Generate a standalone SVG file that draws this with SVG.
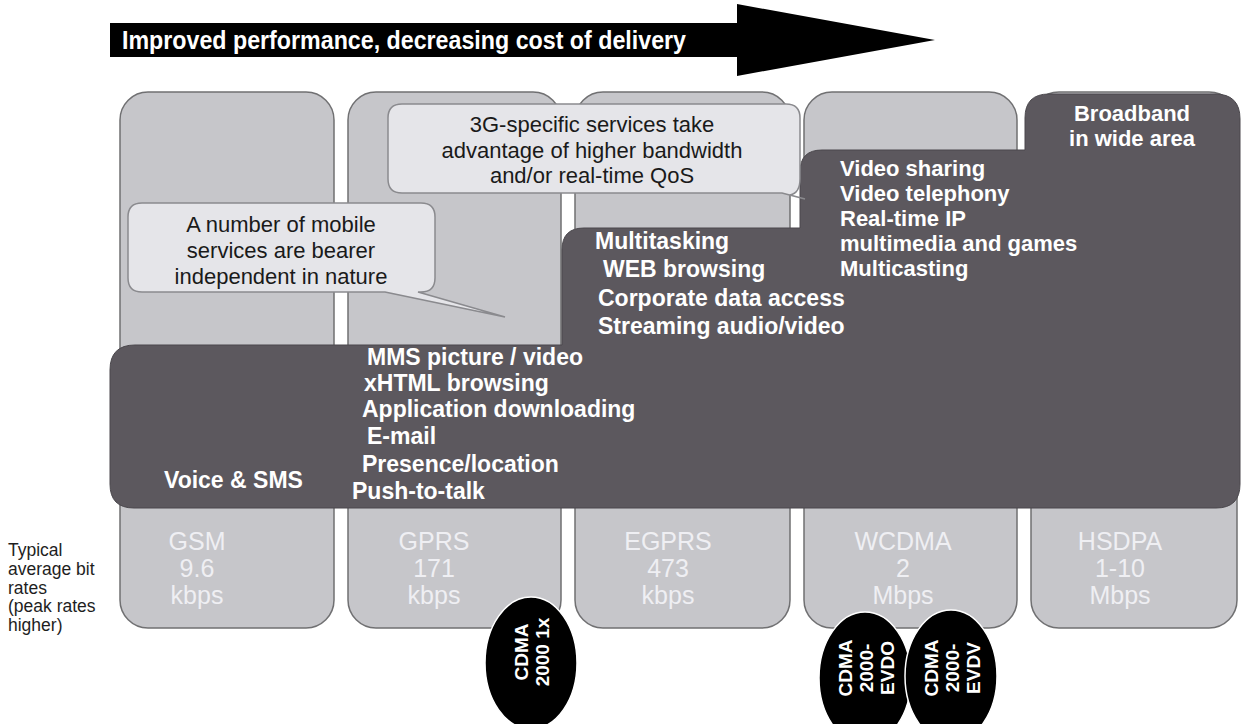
<svg xmlns="http://www.w3.org/2000/svg" width="1242" height="724" viewBox="0 0 1242 724">
<style>
.col{fill:#c6c6ca;stroke:#707072;stroke-width:1.5}
.lab{font-family:"Liberation Sans",Arial,sans-serif;font-size:25px;fill:#efeff3;text-anchor:middle}
.svc{font-family:"Liberation Sans",Arial,sans-serif;font-size:23px;font-weight:bold;fill:#ffffff}
.svs{font-family:"Liberation Sans",Arial,sans-serif;font-size:22px;font-weight:bold;fill:#ffffff}
.call{fill:#e5e5e9;stroke:#8a8a8e;stroke-width:1.5}
.ctxt{font-family:"Liberation Sans",Arial,sans-serif;font-size:22px;fill:#1a1a1a;text-anchor:middle}
.note{font-family:"Liberation Sans",Arial,sans-serif;font-size:17.5px;fill:#1e1e1e}
.disc{fill:#000000;stroke:#ffffff;stroke-width:1.5}
.dtxt{font-family:"Liberation Sans",Arial,sans-serif;font-size:19px;font-weight:bold;fill:#ffffff;text-anchor:middle}
</style>
<rect width="1242" height="724" fill="#ffffff"/>

<g id="arrow">
<rect x="110" y="23" width="628" height="34" fill="#000000"/>
<polygon points="737,4 935,40 737,76" fill="#000000"/>
<text x="122" y="49" font-family="'Liberation Sans Narrow','Liberation Sans',Arial,sans-serif" font-size="25" font-weight="bold" fill="#ffffff" textLength="564" lengthAdjust="spacingAndGlyphs">Improved performance, decreasing cost of delivery</text>
</g>

<g id="columns">
<rect id="col-gsm" class="col" x="120" y="92" width="214" height="536" rx="28"/>
<rect id="col-gprs" class="col" x="348" y="92" width="213" height="536" rx="28"/>
<rect id="col-egprs" class="col" x="575" y="92" width="215" height="536" rx="28"/>
<rect id="col-wcdma" class="col" x="804" y="92" width="213" height="536" rx="28"/>
<rect id="col-hsdpa" class="col" x="1031" y="92" width="206" height="536" rx="28"/>
</g>

<g id="services">
<path d="M110,370 Q110,345 135,345 L562,345 L562,250 Q562,228 584,228 L800,228 L800,172 Q800,150 822,150 L1025,150 L1025,118 Q1025,94 1049,94 L1215,94 Q1240,94 1240,119 L1240,484 Q1240,508 1216,508 L134,508 Q110,508 110,484 Z" fill="#5c585e" stroke="#4a474c" stroke-width="1"/>
<text class="svc" x="164" y="488">Voice &amp; SMS</text>
<text class="svc" x="367" y="365">MMS picture / video</text>
<text class="svc" x="364" y="391">xHTML browsing</text>
<text class="svc" x="362" y="417">Application downloading</text>
<text class="svc" x="367" y="444">E-mail</text>
<text class="svc" x="362" y="472">Presence/location</text>
<text class="svc" x="352" y="499">Push-to-talk</text>
<text class="svc" x="595" y="249">Multitasking</text>
<text class="svc" x="603" y="277">WEB browsing</text>
<text class="svc" x="598" y="306">Corporate data access</text>
<text class="svc" x="598" y="334">Streaming audio/video</text>
<text class="svs" x="840" y="176">Video sharing</text>
<text class="svs" x="840" y="201">Video telephony</text>
<text class="svs" x="840" y="226">Real-time IP</text>
<text class="svs" x="840" y="251">multimedia and games</text>
<text class="svs" x="840" y="276">Multicasting</text>
<text class="svs" x="1132" y="121" text-anchor="middle">Broadband</text>
<text class="svs" x="1132" y="146" text-anchor="middle">in wide area</text>
</g>

<g id="rates">
<text class="lab" x="197" y="550">GSM</text>
<text class="lab" x="197" y="577">9.6</text>
<text class="lab" x="197" y="604">kbps</text>
<text class="lab" x="434" y="550">GPRS</text>
<text class="lab" x="434" y="577">171</text>
<text class="lab" x="434" y="604">kbps</text>
<text class="lab" x="668" y="550">EGPRS</text>
<text class="lab" x="668" y="577">473</text>
<text class="lab" x="668" y="604">kbps</text>
<text class="lab" x="903" y="550">WCDMA</text>
<text class="lab" x="903" y="577">2</text>
<text class="lab" x="903" y="604">Mbps</text>
<text class="lab" x="1120" y="550">HSDPA</text>
<text class="lab" x="1120" y="577">1-10</text>
<text class="lab" x="1120" y="604">Mbps</text>
</g>

<g id="callout-3g">
<path class="call" d="M402,104 H786 Q800,104 800,118 V179 Q800,193 790,195 L805,199 L782,193 H402 Q388,193 388,179 V118 Q388,104 402,104 Z"/>
<text class="ctxt" x="592" y="132">3G-specific services take</text>
<text class="ctxt" x="592" y="158">advantage of higher bandwidth</text>
<text class="ctxt" x="592" y="183">and/or real-time QoS</text>
</g>

<g id="callout-bearer">
<path class="call" d="M142,203 H421 Q435,203 435,217 V278 Q435,292 421,292 H418 L505,317 L385,292 H142 Q128,292 128,278 V217 Q128,203 142,203 Z"/>
<text class="ctxt" x="281" y="232">A number of mobile</text>
<text class="ctxt" x="281" y="258">services are bearer</text>
<text class="ctxt" x="281" y="284">independent in nature</text>
</g>

<g id="rate-note">
<text class="note" x="8" y="556">Typical</text>
<text class="note" x="8" y="575">average bit</text>
<text class="note" x="8" y="594">rates</text>
<text class="note" x="8" y="612">(peak rates</text>
<text class="note" x="8" y="631">higher)</text>
</g>

<g id="cdma-1x">
<ellipse class="disc" cx="531" cy="663" rx="46" ry="66"/>
<text class="dtxt" transform="translate(531,652) rotate(-90)"><tspan x="0" y="-3">CDMA</tspan><tspan x="0" y="18">2000 1x</tspan></text>
</g>
<g id="cdma-evdo">
<ellipse class="disc" cx="865" cy="678" rx="46" ry="66"/>
<text class="dtxt" transform="translate(865,668) rotate(-90)"><tspan x="0" y="-13">CDMA</tspan><tspan x="0" y="8">2000-</tspan><tspan x="0" y="29">EVDO</tspan></text>
</g>
<g id="cdma-evdv">
<ellipse class="disc" cx="951" cy="676" rx="46" ry="66"/>
<text class="dtxt" transform="translate(951,668) rotate(-90)"><tspan x="0" y="-13">CDMA</tspan><tspan x="0" y="8">2000-</tspan><tspan x="0" y="29">EVDV</tspan></text>
</g>
<g id="connectors"></g>
</svg>
